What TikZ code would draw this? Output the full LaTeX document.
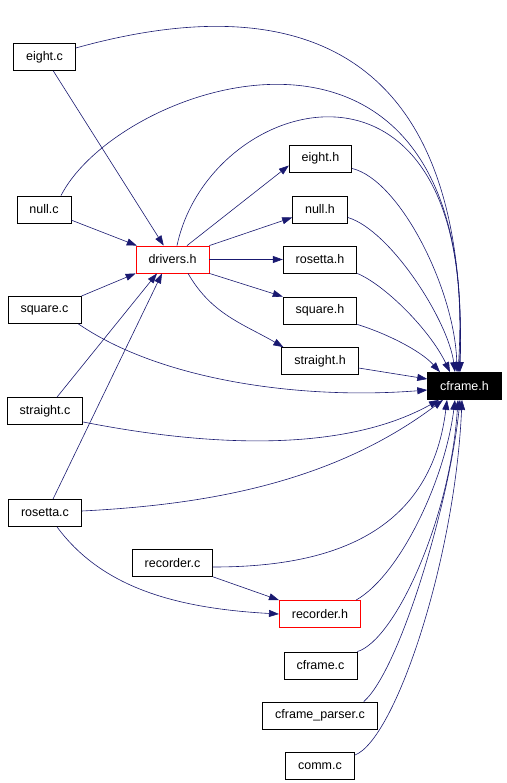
\documentclass[tikz,border=0pt]{standalone}
\usepackage{fontspec}
\setmainfont{Liberation Sans}
\usepackage{xcolor}
\usepackage{tikz}
\usetikzlibrary{arrows.meta,positioning,calc}
\definecolor{edgeblue}{RGB}{25,25,112}
\definecolor{linkred}{RGB}{255,0,0}

\begin{document}
\begin{tikzpicture}[x=1pt, y=1pt,
  file/.style={draw, fill=white, line width=0.8pt, minimum height=27pt, inner xsep=12.5pt, inner ysep=0pt, font=\fontsize{12.5}{14}\selectfont},
  header/.style={file, draw=linkred},
  focus/.style={file, fill=black, text=white},
  dep/.style={-{Triangle[length=10pt, width=7pt]}, edgeblue, line width=0.6pt}
]
\useasboundingbox (0,0) rectangle (506,-783);

\node[file] (eightc) at (44.5,-57) {eight.c};
\node[file] (nullc) at (44,-209.5) {null.c};
\node[file] (squarec) at (44.5,-310) {square.c};
\node[file] (straightc) at (45,-411) {straight.c};
\node[file] (rosettac) at (45,-513) {rosetta.c};
\node[header] (driversh) at (172.5,-259.5) {drivers.h};
\node[file] (recorderc) at (172.5,-563) {recorder.c};
\node[file] (eighth) at (320.5,-158.5) {eight.h};
\node[file] (nullh) at (320,-209.5) {null.h};
\node[file] (rosettah) at (320,-259.5) {rosetta.h};
\node[file] (squareh) at (320,-310.5) {square.h};
\node[file] (straighth) at (320,-361) {straight.h};
\node[header] (recorderh) at (320,-614) {recorder.h};
\node[file] (cframec) at (320.5,-665.5) {cframe.c};
\node[file] (cframeparserc) at (320,-715.5) {cframe\_parser.c};
\node[file] (commc) at (320,-766) {comm.c};
\node[focus] (cframeh) at (464.5,-386) {cframe.h};

\draw[dep] (eightc) -- (driversh);
\draw[dep] ([yshift=9pt]eightc.east) .. controls (230,-5) and (470,10) .. ([xshift=-4.5pt]cframeh.north);
\draw[dep] (nullc) -- (driversh);
\draw[dep] ([xshift=17pt]nullc.north) .. controls (120,-80) and (480,40) .. ([xshift=-5.5pt]cframeh.north);
\draw[dep] (squarec.north east) -- (driversh.south west);
\draw[dep] ([xshift=-3pt]squarec.south east) .. controls (160,-380) and (300,-400) .. ([yshift=-4pt]cframeh.west);
\draw[dep] ([xshift=12pt]straightc.north) -- ([xshift=-15.5pt]driversh.south);
\draw[dep] ([yshift=-11pt]straightc.east) .. controls (200,-445) and (340,-455) .. ([xshift=-25.5pt]cframeh.south);
\draw[dep] ([xshift=8pt]rosettac.north) -- ([xshift=-10.5pt]driversh.south);
\draw[dep] ([yshift=2pt]rosettac.east) .. controls (200,-505) and (330,-485) .. ([xshift=-21.5pt]cframeh.south);
\draw[dep] ([xshift=12pt]rosettac.south) .. controls (100,-585) and (170,-608) .. (recorderh.west);

\draw[dep] ([xshift=4.5pt]driversh.north) .. controls (210,-90) and (480,-20) .. ([xshift=-6.5pt]cframeh.north);
\draw[dep] ([xshift=14.5pt]driversh.north) -- ([yshift=-7pt]eighth.west);
\draw[dep] (driversh.north east) -- ([yshift=-8pt]nullh.west);
\draw[dep] (driversh) -- (rosettah);
\draw[dep] (driversh.south east) -- (squareh.north west);
\draw[dep] ([xshift=15.5pt]driversh.south) to[out=-60, in=150] ([xshift=2pt]straighth.north west);

\draw[dep] ([yshift=-10pt]eighth.east) .. controls (400,-180) and (455,-290) .. ([xshift=-7.5pt]cframeh.north);
\draw[dep] ([yshift=-8pt]nullh.east) .. controls (390,-230) and (448,-320) .. ([xshift=-9.5pt]cframeh.north);
\draw[dep] (rosettah.south east) .. controls (385,-285) and (430,-330) .. ([xshift=-14.5pt]cframeh.north);
\draw[dep] (squareh.south east) .. controls (385,-333) and (420,-350) .. ([xshift=-24.5pt]cframeh.north);
\draw[dep] ([yshift=-7pt]straighth.east) -- ([yshift=7pt]cframeh.west);

\draw[dep] (recorderc.south east) -- (recorderh.north west);
\draw[dep] ([yshift=-4pt]recorderc.east) .. controls (320,-567) and (430,-540) .. ([xshift=-17.5pt]cframeh.south);
\draw[dep] ([xshift=-5pt]recorderh.north east) .. controls (400,-575) and (445,-480) .. ([xshift=-9.5pt]cframeh.south);
\draw[dep] (cframec.north east) .. controls (395,-640) and (450,-520) .. ([xshift=-6.5pt]cframeh.south);
\draw[dep] ([xshift=-14pt]cframeparserc.north east) .. controls (400,-670) and (450,-500) .. ([xshift=-4.5pt]cframeh.south);
\draw[dep] ([yshift=-3pt]commc.north east) .. controls (395,-740) and (455,-560) .. ([xshift=-2.5pt]cframeh.south);

\end{tikzpicture}
\end{document}
